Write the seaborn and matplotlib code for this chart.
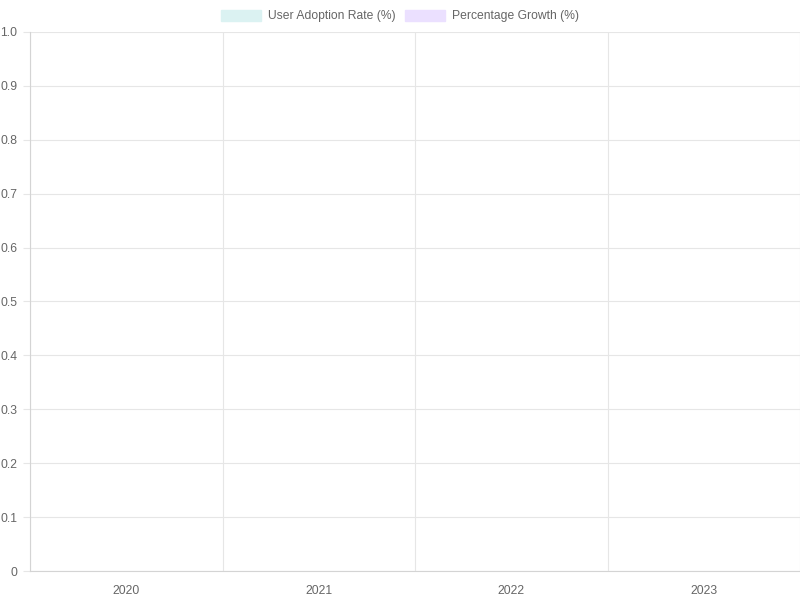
import numpy as np
import pandas as pd
import matplotlib
matplotlib.use("Agg")
import matplotlib.pyplot as plt
import matplotlib.patches as mpatches
from matplotlib.ticker import FuncFormatter, MultipleLocator, FixedLocator
import seaborn as sns

# Dados do gráfico (o original não mostra nenhuma barra)
anos = ["2020", "2021", "2022", "2023"]
adocao = [np.nan, np.nan, np.nan, np.nan]      # User Adoption Rate (%)
crescimento = [np.nan, np.nan, np.nan, np.nan]  # Percentage Growth (%)
series = ["User Adoption Rate (%)", "Percentage Growth (%)"]
cores = ["#dbf2f2", "#ebe0ff"]

df = pd.DataFrame({
    "Ano": anos * 2,
    "Valor": adocao + crescimento,
    "Serie": [series[0]] * len(anos) + [series[1]] * len(anos),
})

sns.set_theme(style="white")
plt.rcParams["font.family"] = ["Liberation Sans", "DejaVu Sans"]

fig = plt.figure(figsize=(8, 6), dpi=100)
ax = fig.add_axes([30 / 800, 1 - 571 / 600, 770 / 800, 539 / 600])

sns.barplot(data=df, x="Ano", y="Valor", hue="Serie", order=anos,
            hue_order=series, palette=cores, ax=ax, legend=False)

ax.set_xlim(-0.5, len(anos) - 0.5)
ax.set_ylim(0, 1)
ax.set_xticks(range(len(anos)))
ax.set_xticklabels(anos)
ax.xaxis.set_minor_locator(FixedLocator(np.arange(-0.5, len(anos), 1.0)))
ax.yaxis.set_major_locator(MultipleLocator(0.1))
ax.yaxis.set_major_formatter(FuncFormatter(lambda v, p: "0" if abs(v) < 1e-9 else f"{v:.1f}"))

grid_cor = "#e6e6e6"
ax.grid(False)
ax.grid(True, which="minor", axis="x", color=grid_cor, linewidth=0.8)
ax.grid(True, which="major", axis="y", color=grid_cor, linewidth=0.8)
ax.set_axisbelow(True)

ax.tick_params(axis="x", which="major", length=0, pad=10, labelsize=8.7, labelcolor="#666666")
ax.tick_params(axis="x", which="minor", length=8, color=grid_cor, width=0.8)
ax.tick_params(axis="y", which="major", length=5, color=grid_cor, width=0.8, pad=4,
               labelsize=8.7, labelcolor="#666666", left=True)

for lado in ["top", "right"]:
    ax.spines[lado].set_visible(False)
for lado in ["left", "bottom"]:
    ax.spines[lado].set_color("#d4d4d4")
    ax.spines[lado].set_linewidth(0.8)

ax.set_xlabel("")
ax.set_ylabel("")

handles = [mpatches.Patch(facecolor=c, edgecolor=c, label=s) for c, s in zip(cores, series)]
fig.legend(handles=handles, loc="center", bbox_to_anchor=(0.5, 1 - 16 / 600), ncol=2,
           frameon=False, fontsize=8.7, labelcolor="#666666", handlelength=3.3,
           handleheight=1.0, handletextpad=0.6, columnspacing=0.8)

fig.savefig("out.png", dpi=100)
